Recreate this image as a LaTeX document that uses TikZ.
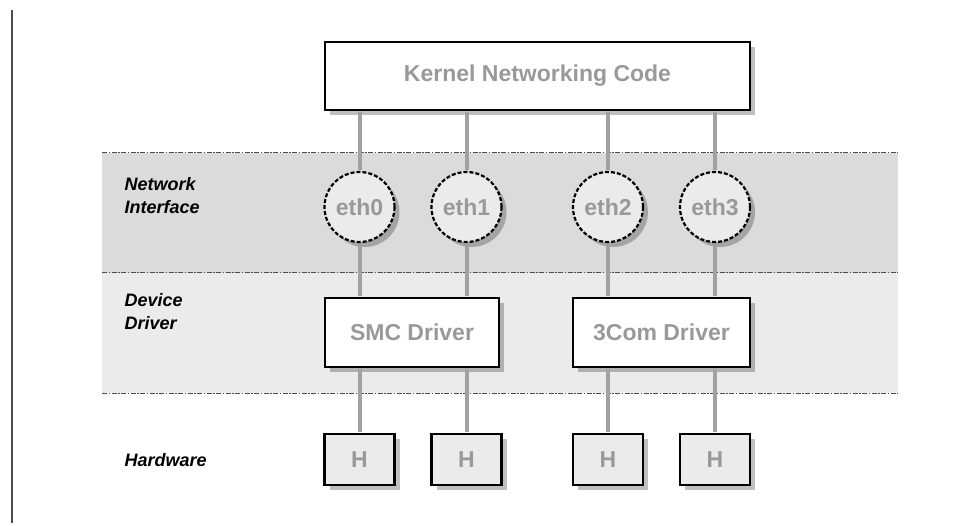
\documentclass[tikz,border=0pt]{standalone}
\usepackage{fontspec}
\setmainfont{Liberation Sans}
\usetikzlibrary{shadows}
\definecolor{bandDark}{gray}{0.86}
\definecolor{bandLight}{gray}{0.92}
\definecolor{boxText}{gray}{0.6}
\definecolor{linkGray}{gray}{0.63}
\definecolor{frameGray}{gray}{0.3}
\begin{document}
\begin{tikzpicture}[x=1pt,y=1pt,
    boxshadow/.style={drop shadow={shadow xshift=5pt,shadow yshift=-5pt,fill=black,opacity=0.25}},
    codebox/.style={draw=black,line width=2.5pt,fill=white,boxshadow,
        font=\fontsize{23}{26}\selectfont\bfseries,text=boxText},
    ethnode/.style={circle,draw=black,line width=2.2pt,dash pattern=on 4pt off 2pt,
        fill=bandLight,minimum size=70pt,inner sep=0pt,boxshadow,
        font=\fontsize{23}{26}\selectfont\bfseries,text=boxText},
    hwbox/.style={codebox,fill=bandLight,minimum width=70pt,minimum height=51pt,inner sep=0pt},
    layerlabel/.style={anchor=west,align=left,
        font=\fontsize{18}{23}\selectfont\bfseries\itshape},
    bandline/.style={draw=frameGray,line width=1pt,dash pattern=on 5pt off 1.5pt on 1.5pt off 1.5pt},
    link/.style={draw=linkGray,line width=4pt,shorten <=1pt,shorten >=1pt}]
\useasboundingbox (0,0) rectangle (971,525);

% Page rule
\draw[frameGray,line width=2.5pt] (12,515) -- (12,2);

% Layer bands
\fill[bandDark] (102,252) rectangle (898,372);
\fill[bandLight] (102,132) rectangle (898,252);
\foreach \y in {372,252,132} {
    \draw[bandline] (102,\y) -- (898,\y);
}

% Layer names
\node[layerlabel] (netlabel) at (121,329) {Network\\Interface};
\node[layerlabel] (devlabel) at (121,213) {Device\\Driver};
\node[layerlabel] (hwlabel) at (121,65) {Hardware};

% Kernel and drivers
\node[codebox,minimum width=425pt,minimum height=68pt] (kernel) at (537.5,449) {Kernel Networking Code};
\node[codebox,minimum width=174pt,minimum height=69pt] (smc) at (412,192.5) {SMC Driver};
\node[codebox,minimum width=177pt,minimum height=69pt] (com) at (661.5,192.5) {3Com Driver};

% Interfaces and hardware
\foreach \i/\x/\drv in {0/359.5/smc, 1/466.5/smc, 2/608/com, 3/715/com} {
    \node[ethnode] (eth\i) at (\x,318) {eth\i};
    \node[hwbox] (h\i) at (\x,65.5) {H};
    \draw[link] (eth\i) -- (eth\i |- kernel.south);
    \draw[link] (eth\i) -- (eth\i |- \drv.north);
    \draw[link] (h\i) -- (h\i |- \drv.south);
}
\end{tikzpicture}
\end{document}
